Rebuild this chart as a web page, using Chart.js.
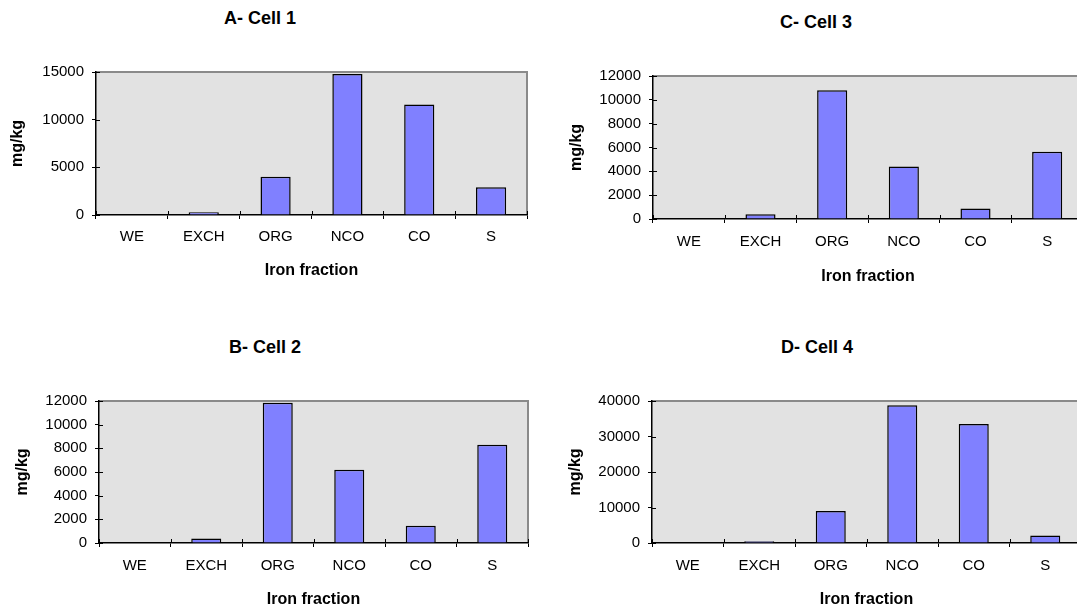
<html>
<head>
<meta charset="UTF-8">
<title>Iron fractions by cell</title>
<style>
  html, body { margin: 0; padding: 0; background: #fff; overflow: hidden; }
  body { width: 1077px; height: 610px; position: relative; font-family: "Liberation Sans", Arial, sans-serif; }
  .ttl { position: absolute; width: 300px; text-align: center; font-weight: bold; font-size: 18px; line-height: 22px; color: #000; }
  canvas { position: absolute; }
</style>
</head>
<body>

<div class="ttl" style="left:110px; top:7px;">A- Cell 1</div>
<div class="ttl" style="left:666px; top:11px;">C- Cell 3</div>
<div class="ttl" style="left:115px; top:336px;">B- Cell 2</div>
<div class="ttl" style="left:667px; top:336px;">D- Cell 4</div>

<canvas id="cellA" width="540" height="240" style="left:0px; top:50px;"></canvas>
<canvas id="cellC" width="543" height="246" style="left:540px; top:50px;"></canvas>
<canvas id="cellB" width="540" height="235" style="left:0px; top:375px;"></canvas>
<canvas id="cellD" width="541" height="235" style="left:540px; top:375px;"></canvas>

<script src="https://cdn.jsdelivr.net/npm/chart.js@4.4.0/dist/chart.umd.min.js"></script>
<script>
// values (mg/kg)
const fractions = ['WE', 'EXCH', 'ORG', 'NCO', 'CO', 'S'];
const cell1 = [0, 300, 4000, 14800, 11600, 2900];
const cell2 = [0, 370, 11850, 6200, 1460, 8300];
const cell3 = [0, 400, 10800, 4400, 880, 5650];
const cell4 = [0, 500, 9000, 38800, 33500, 2100];

const FONT = "'Liberation Sans', Arial, sans-serif";

// grey plot area with grey top/right frame + small inner tick marks
const plotFrame = {
  id: 'plotFrame',
  beforeDraw(chart) {
    const { ctx, chartArea: a } = chart;
    ctx.save();
    ctx.fillStyle = '#e2e2e2';
    ctx.fillRect(a.left, a.top, a.right - a.left, a.bottom - a.top);
    ctx.strokeStyle = '#8a8a8a';
    ctx.lineWidth = 2;
    ctx.beginPath();
    ctx.moveTo(a.left, a.top);
    ctx.lineTo(a.right, a.top);
    ctx.lineTo(a.right, a.bottom);
    ctx.stroke();
    ctx.restore();
  },
  afterDraw(chart) {
    const { ctx, chartArea: a, scales } = chart;
    ctx.save();
    ctx.strokeStyle = '#000';
    ctx.lineWidth = 1;
    ctx.beginPath();
    scales.y.ticks.forEach((t) => {
      const y = Math.round(scales.y.getPixelForValue(t.value)) + 0.5;
      ctx.moveTo(a.left, y);
      ctx.lineTo(a.left + 4, y);
    });
    for (let i = 0; i <= fractions.length; i++) {
      const x = Math.round(scales.x.getPixelForValue(i - 0.5)) + 0.5;
      ctx.moveTo(x, a.bottom);
      ctx.lineTo(x, a.bottom - 4);
    }
    ctx.stroke();
    ctx.restore();
  }
};

function makeChart(id, values, yMax, yStep, g) {
  return new Chart(document.getElementById(id), {
    type: 'bar',
    data: {
      labels: fractions,
      datasets: [{
        data: values,
        backgroundColor: '#8080ff',
        borderColor: '#000',
        borderWidth: 1.5,
        borderSkipped: 'start',
        barPercentage: 0.42,
        categoryPercentage: 1
      }]
    },
    options: {
      responsive: false,
      animation: false,
      events: [],
      layout: { padding: { top: g.padTop, right: g.padRight, bottom: 0, left: 0 } },
      plugins: { legend: { display: false }, tooltip: { enabled: false }, title: { display: false } },
      scales: {
        x: {
          afterFit: (s) => { s.height = g.xHeight; },
          grid: { display: true, drawOnChartArea: false, color: '#000', tickLength: 4, offset: true },
          border: { color: '#000', width: 1.5 },
          ticks: { color: '#000', font: { family: FONT, size: 15 }, padding: g.xTickPad, maxRotation: 0 },
          title: { display: true, text: 'Iron fraction', color: '#000',
                   font: { family: FONT, size: 16, weight: 'bold' }, padding: { top: 0, bottom: g.xTitlePad } }
        },
        y: {
          min: 0, max: yMax,
          afterFit: (s) => { s.width = g.yWidth; },
          grid: { display: true, drawOnChartArea: false, color: '#000', tickLength: 4 },
          border: { color: '#000', width: 1.5 },
          ticks: { stepSize: yStep, color: '#000', font: { family: FONT, size: 15 }, padding: 8,
                   callback: (v) => String(v) },
          title: { display: true, text: 'mg/kg', color: '#000',
                   font: { family: FONT, size: 16, weight: 'bold' }, padding: { top: g.yTitlePad, bottom: 0 } }
        }
      }
    },
    plugins: [plotFrame]
  });
}

makeChart('cellA', cell1, 15000, 5000,
  { padTop: 22, padRight: 13, xHeight: 75, xTickPad: 9, xTitlePad: 10, yWidth: 96, yTitlePad: 8 });
makeChart('cellC', cell3, 12000, 2000,
  { padTop: 26, padRight: 0, xHeight: 77, xTickPad: 9.5, xTitlePad: 10, yWidth: 113, yTitlePad: 27 });
makeChart('cellB', cell2, 12000, 2000,
  { padTop: 26, padRight: 12, xHeight: 67, xTickPad: 9.5, xTitlePad: 1, yWidth: 99, yTitlePad: 13 });
makeChart('cellD', cell4, 40000, 10000,
  { padTop: 26, padRight: 0, xHeight: 67, xTickPad: 9.5, xTitlePad: 1, yWidth: 112, yTitlePad: 26 });
</script>
</body>
</html>
